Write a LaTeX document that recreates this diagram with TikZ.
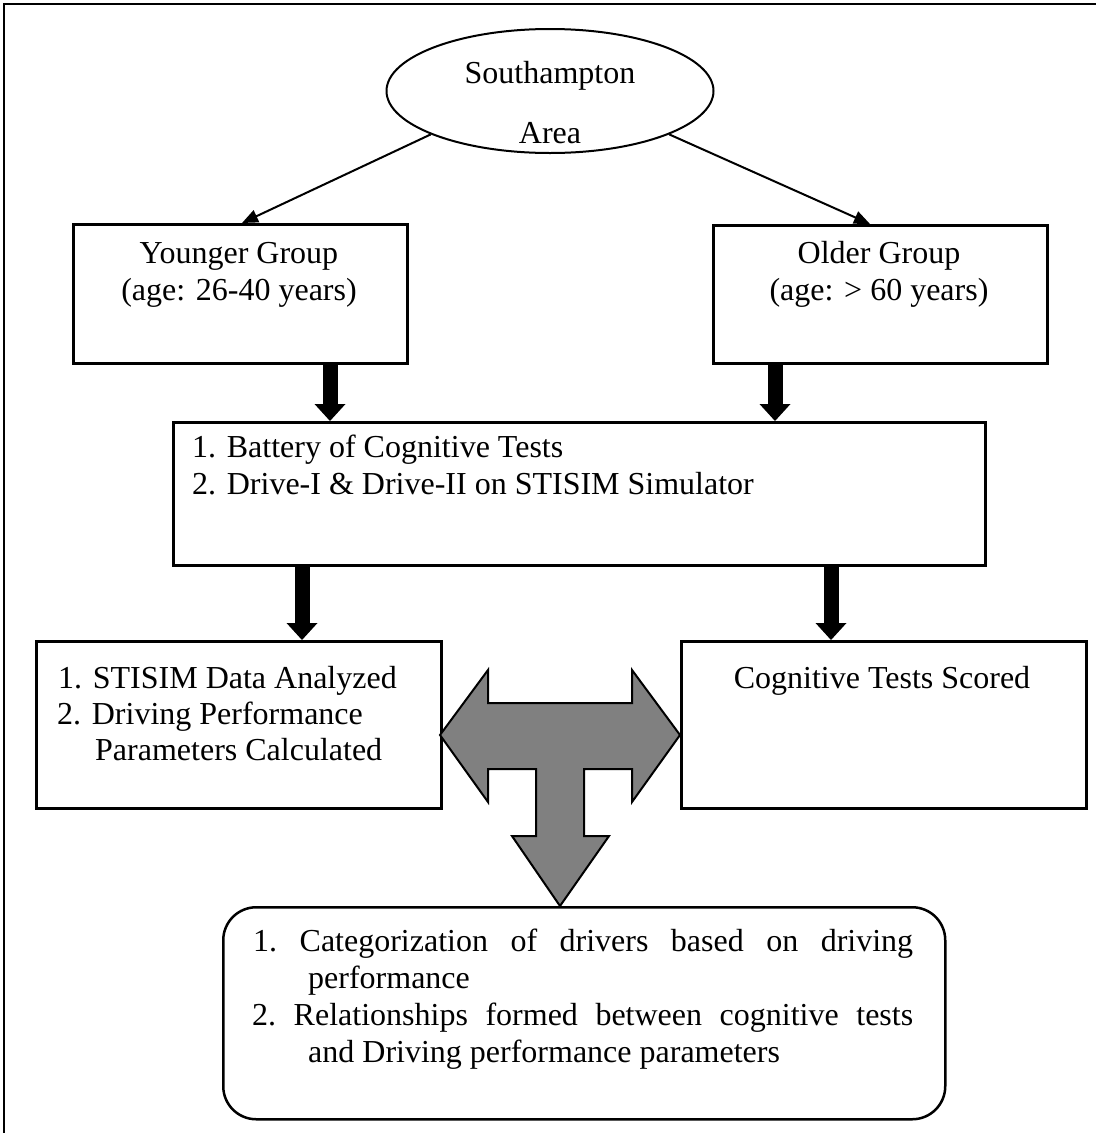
\documentclass[tikz,border=0pt]{standalone}
\usepackage{fontspec}
\setmainfont{Liberation Serif}
\usetikzlibrary{shapes.geometric,arrows.meta}
\definecolor{tgray}{RGB}{128,128,128}
\begin{document}
\begin{tikzpicture}[x=1pt,y=-1pt,
  font=\fontsize{32}{37}\selectfont,
  boxnode/.style={draw,line width=2.5pt,inner sep=0pt,anchor=north west},
  txt/.style={inner sep=0pt,anchor=base},
  txtl/.style={inner sep=0pt,anchor=base west},
  thinarrow/.style={line width=2pt,-{Triangle[width=13pt,length=16pt]}},
  bigarrow/.style={line width=15pt,-{Triangle[width=31pt,length=17pt,line width=0pt]}}]
\useasboundingbox (0,0) rectangle (1096,1133);
% outer frame (top and left only)
\draw[line width=2.5pt] (4,1133) -- (4,4) -- (1096,4);

% ellipse
\node[draw,ellipse,line width=2pt,minimum width=327pt,minimum height=124pt,inner sep=0pt] (ell) at (550,91) {};
\node[txt] (ellA) at (550,83) {Southampton};
\node[txt] (ellB) at (550,143) {Area};

% group boxes
\node[boxnode,minimum width=334pt,minimum height=139pt] (young) at (72,223) {};
\node[txt] (yt1) at (239,263) {Younger Group};
\node[txt] (yt2) at (239,300) {(age: 26-40 years)};
\node[boxnode,minimum width=334pt,minimum height=138pt] (old) at (712,224) {};
\node[txt] (ot1) at (879,263) {Older Group};
\node[txt] (ot2) at (879,300) {(age: > 60 years)};

% middle box
\node[boxnode,minimum width=812pt,minimum height=143pt] (mid) at (172,421) {};
\node[txtl] (mt1) at (192,457) {1. Battery of Cognitive Tests};
\node[txtl] (mt2) at (192,494) {2. Drive-I \& Drive-II on STISIM Simulator};

% lower boxes
\node[boxnode,minimum width=405pt,minimum height=167pt] (lbox) at (35,640) {};
\node[txtl] (lt1) at (58,688) {1. STISIM Data Analyzed};
\node[txtl] (lt2) at (57,724) {2. Driving Performance};
\node[txtl] (lt3) at (95,760) {Parameters Calculated};
\node[boxnode,minimum width=405pt,minimum height=167pt] (rbox) at (680,640) {};
\node[txt] (rt1) at (882,688) {Cognitive Tests Scored};

% bottom rounded box
\node[boxnode,rounded corners=33pt,minimum width=722pt,minimum height=212pt] (bbox) at (222,906) {};
\node[txtl] (bt1) at (253,951) {\makebox[660pt][s]{1.\ Categorization of drivers based on driving}};
\node[txtl] (bt2) at (308,988) {performance};
\node[txtl] (bt3) at (252,1025) {\makebox[661pt][s]{2.\ Relationships formed between cognitive tests}};
\node[txtl] (bt4) at (308,1062) {and Driving performance parameters};

% grey T arrow
\fill[tgray,draw=black,line width=2pt,line join=miter]
  (440,735) -- (488,670) -- (488,703) -- (632,703) -- (632,670) -- (680,735)
  -- (632,802) -- (632,769) -- (584,769) -- (584,836) -- (609,836) -- (560,906)
  -- (512,836) -- (536,836) -- (536,769) -- (488,769) -- (488,802) -- cycle;

% connector x positions
\coordinate (ya) at (242,0);
\coordinate (ob) at (870,0);
\coordinate (ax1) at (330,0);
\coordinate (ax2) at (775,0);
\coordinate (ax3) at (302,0);
\coordinate (ax4) at (831,0);

% thin arrows
\draw[thinarrow] (ell.200) -- (young.north -| ya);
\draw[thinarrow] (ell.340) -- (old.north -| ob);

% thick arrows
\draw[bigarrow] (young.south -| ax1) -- (mid.north -| ax1);
\draw[bigarrow] (old.south -| ax2) -- (mid.north -| ax2);
\draw[bigarrow] (mid.south -| ax3) -- (lbox.north -| ax3);
\draw[bigarrow] (mid.south -| ax4) -- (rbox.north -| ax4);
\end{tikzpicture}
\end{document}
